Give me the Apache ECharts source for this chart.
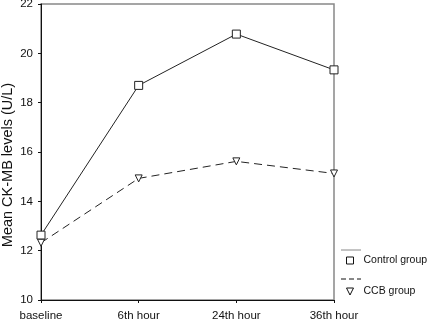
<!DOCTYPE html>
<html>
<head>
<meta charset="utf-8">
<script src="https://cdn.jsdelivr.net/npm/echarts@6/dist/echarts.min.js"></script>
<style>
html,body{margin:0;padding:0;background:#fff;}
#main{width:428px;height:321px;}
</style>
</head>
<body>
<div id="main"></div>
<script>
var categories = ['baseline', '6th hour', '24th hour', '36th hour'];
var controlData = [12.63, 18.7, 20.78, 19.33];
var ccbData = [12.32, 14.93, 15.62, 15.13];
var yTicks = [10, 12, 14, 16, 18, 20, 22];
var yTitle = 'Mean CK-MB levels (U/L)';

var triDown = 'path://M0,0 L10,0 L5,10 Z';
var chart = echarts.init(document.getElementById('main'));
var font = 'Liberation Sans, Arial, sans-serif';
var option = {
	animation: false,
	grid: {left: 41, top: 4, right: 94, bottom: 21, show: true, borderColor: '#888', borderWidth: 1.5, outerBoundsMode: 'none'},
	xAxis: {
		type: 'category', data: categories, boundaryGap: false,
		axisLine: {lineStyle: {color: '#111', width: 1}},
		axisTick: {show: true, length: 3, lineStyle: {color: '#111'}},
		axisLabel: {color: '#111', fontSize: 11.5, fontFamily: font, margin: 10}
	},
	yAxis: {
		type: 'value', min: yTicks[0], max: yTicks[yTicks.length - 1], interval: 2,
		splitLine: {show: false},
		axisLine: {show: true, lineStyle: {color: '#111', width: 1}},
		axisTick: {show: true, length: 3, lineStyle: {color: '#111'}},
		axisLabel: {color: '#111', fontSize: 11.5, fontFamily: font, margin: 8}
	},
	legend: {
		orient: 'vertical', left: 346, top: 255, itemGap: 20, padding: 0,
		itemWidth: 7, itemHeight: 7,
		textStyle: {color: '#111', fontSize: 10.5, fontFamily: font, padding: [0, 0, 0, 5], overflow: 'none', width: 80},
		itemStyle: {color: '#fff', borderColor: '#111', borderWidth: 1},
		data: [{name: 'Control group', icon: 'rect'}, {name: 'CCB group', icon: triDown}]
	},
	graphic: [
		{type: 'text', x: 8, y: 165, rotation: Math.PI / 2,
			style: {text: yTitle, fill: '#111', font: '14.5px ' + font, align: 'center', verticalAlign: 'middle'}},
		{type: 'line', shape: {x1: 341, y1: 250, x2: 361, y2: 250}, style: {stroke: '#888', lineWidth: 1}},
		{type: 'line', shape: {x1: 341, y1: 279, x2: 361, y2: 279}, style: {stroke: '#111', lineWidth: 1, lineDash: [5, 3]}}
	],
	series: [
		{
			name: 'Control group', type: 'line', data: controlData,
			symbol: 'rect', symbolSize: 8, showAllSymbol: true,
			lineStyle: {color: '#222', width: 1},
			itemStyle: {color: '#fff', borderColor: '#222', borderWidth: 1}
		},
		{
			name: 'CCB group', type: 'line', data: ccbData,
			symbol: triDown, symbolSize: 7, showAllSymbol: true,
			lineStyle: {color: '#222', width: 1, type: [8, 5]},
			itemStyle: {color: '#fff', borderColor: '#222', borderWidth: 1}
		}
	]
};
chart.setOption(option);
</script>
</body>
</html>
